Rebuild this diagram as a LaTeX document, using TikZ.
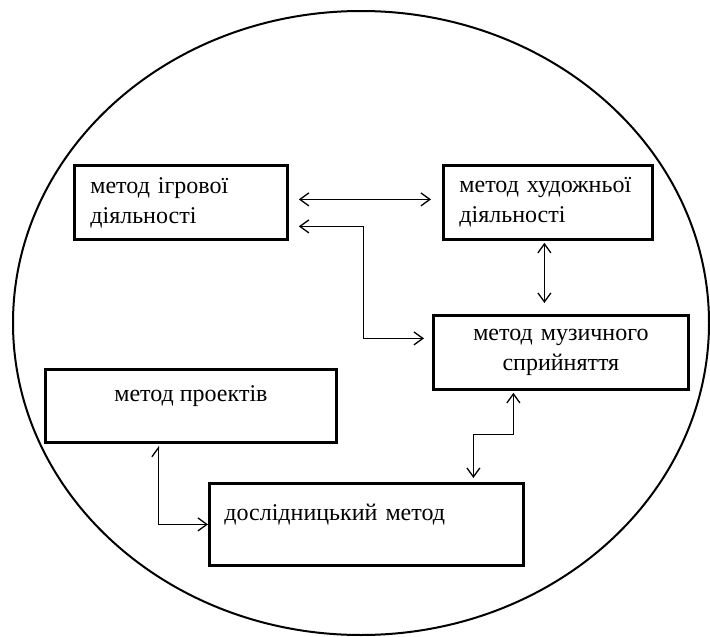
\documentclass[tikz,border=0pt]{standalone}
\usepackage{fontspec}
\setmainfont{Liberation Serif}
\usetikzlibrary{arrows.meta,positioning}

\begin{document}
\begin{tikzpicture}[
			x=1pt, y=-1pt,
			>={Straight Barb[length=9pt,width=13pt]},
			font=\fontsize{24}{30}\selectfont,
			method/.style={
				rectangle,
				draw=black,
				line width=2.8pt,
				anchor=north west,
				inner xsep=16pt,
				inner ysep=0pt,
				fill=white
			},
			link/.style={
				line width=1.3pt
			}
			]
			\useasboundingbox (0,0) rectangle (710,637);
			
			% the big oval round all methods
			\draw [line width=2pt] (361,323) ellipse [x radius=348pt, y radius=312pt];
			
			% We start by placing the blocks
			\node [method, minimum width=213pt, minimum height=74pt, text width=181pt, align=left] (igr) at (73,164)
			{метод ігрової\\діяльності};
			
			\node [method, minimum width=209pt, minimum height=74pt, text width=177pt, align=left] (hud) at (442,164)
			{метод художньої\\діяльності};
			
			\node [method, minimum width=255pt, minimum height=74pt, text width=223pt, align=center] (muz) at (432,314)
			{метод музичного\\сприйняття};
			
			\node [method, minimum width=291pt, text height=32pt, text depth=41pt] (proj) at (44,368)
			{метод проектів};
			
			\node [method, minimum width=314pt, inner xsep=15pt, text width=284pt, align=left, text height=37pt, text depth=45pt] (dosl) at (208,482)
			{дослідницький метод};
			
			% then the connectors
			\draw [link, <->, shorten <=10pt, shorten >=11pt] ([yshift=3pt]igr.east) -- ([yshift=3pt]igr.east -| hud.west);
			\draw [link, <->, shorten <=10pt, shorten >=8pt] ([yshift=-24pt]igr.east) -- ++(75pt,0) |- ([yshift=14pt]muz.west);
			\draw [link, <->, shorten <=2pt, shorten >=11pt] ([xshift=-3.5pt]hud.south) -- ([xshift=-3.5pt]hud.south |- muz.north);
			\draw [link, <->, shorten <=2pt, shorten >=4pt] ([xshift=-47.5pt]muz.south) -- ++(0,-44pt) -| ([xshift=107pt]dosl.north);
			\draw [link, {Straight Barb[left,length=9pt,width=13pt]}->, shorten <=2pt] ([xshift=-32.5pt]proj.south) |- (dosl.west);
			
\end{tikzpicture}
\end{document}
